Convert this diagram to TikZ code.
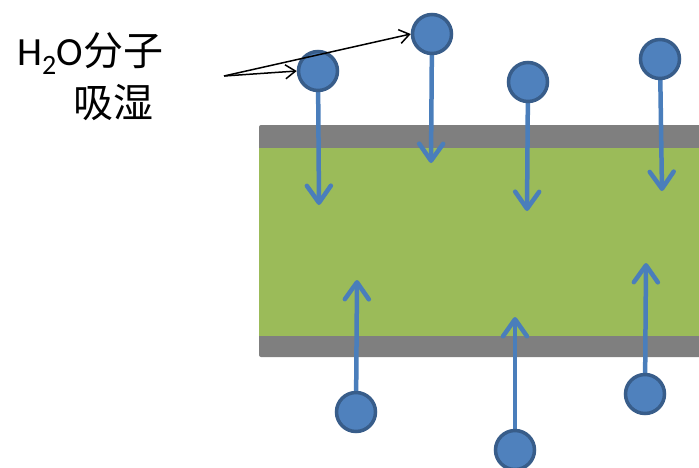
\documentclass[tikz,border=0pt]{standalone}
\usepackage{fontspec}
\setmainfont{Carlito}
\newfontfamily\cjk{Noto Sans CJK SC}
\usetikzlibrary{arrows.meta}
\definecolor{bandgray}{HTML}{7F7F7F}
\definecolor{filmgreen}{HTML}{9BBB59}
\definecolor{molfill}{HTML}{4F81BD}
\definecolor{molborder}{HTML}{385D8A}
\definecolor{arrowblue}{HTML}{4A7EBB}
\tikzset{
  mol/.style={circle, fill=molfill, draw=molborder, line width=3.5pt, minimum size=39pt, inner sep=0pt},
  flow/.style={draw=arrowblue, line width=4.5pt, -{Straight Barb[length=17pt, width=24pt, round]}},
  pointer/.style={draw=black, line width=1.5pt, -{Straight Barb[length=10pt, width=14pt]}},
  lbl/.style={inner sep=0pt, font=\fontsize{40}{44}\selectfont}
}
\begin{document}
\begin{tikzpicture}[x=1pt, y=-1pt]
\useasboundingbox (0,0) rectangle (699,467);
% film
\fill[bandgray, rounded corners=2pt] (259,125) rectangle (705,357);
\fill[filmgreen] (259,148) rectangle (705,336);
% tips
\coordinate (t1) at (319,205);
\coordinate (t2) at (431,163);
\coordinate (t3) at (527,211);
\coordinate (t4) at (662,191);
\coordinate (t5) at (357,280);
\coordinate (t6) at (515,317);
\coordinate (t7) at (646,263);
% molecule positions (nodes drawn after arrows)
\coordinate (p1) at (318,71);
\coordinate (p2) at (432,34);
\coordinate (p3) at (528,82);
\coordinate (p4) at (660,59);
\coordinate (p5) at (356,412);
\coordinate (p6) at (515,450);
\coordinate (p7) at (645,394);
\draw[flow] (p1) -- (t1);
\draw[flow] (p2) -- (t2);
\draw[flow] (p3) -- (t3);
\draw[flow] (p4) -- (t4);
\draw[flow] (p5) -- (t5);
\draw[flow] (p6) -- (t6);
\draw[flow] (p7) -- (t7);
\node[mol] (m1) at (p1) {};
\node[mol] (m2) at (p2) {};
\node[mol] (m3) at (p3) {};
\node[mol] (m4) at (p4) {};
\node[mol] (m5) at (p5) {};
\node[mol] (m6) at (p6) {};
\node[mol] (m7) at (p7) {};
% label
\node[lbl, anchor=base west] (l1) at (17,65) {H\textsubscript{2}O{\cjk 分子}};
\node[lbl, anchor=base west] (l2) at (73,117) {\cjk 吸湿};
\coordinate (src) at (224,76);
\draw[pointer] (src) -- (m1.west);
\draw[pointer] (src) -- (m2.west);
\end{tikzpicture}
\end{document}
